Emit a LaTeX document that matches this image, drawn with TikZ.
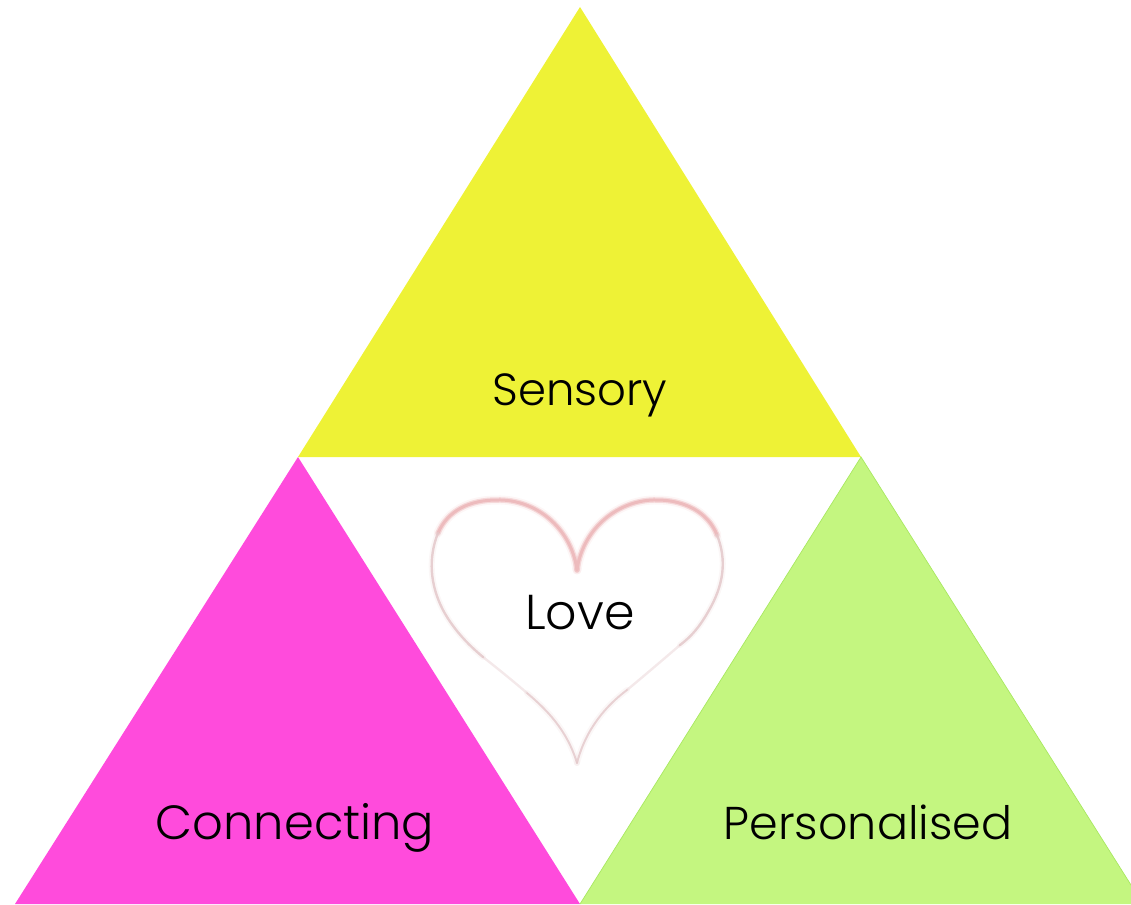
\documentclass[tikz,border=0pt]{standalone}
\usepackage{fontspec}
\setmainfont{Poppins Light}
\definecolor{sensoryc}{HTML}{EEF236}
\definecolor{connectc}{HTML}{FF4BDC}
\definecolor{personalc}{HTML}{C4F680}
\definecolor{personaledge}{HTML}{A8E860}
\definecolor{heartc}{HTML}{EDBBBD}
\definecolor{heartd}{HTML}{E3C8CA}
\newcommand{\upperL}{(577,570) .. controls (571,527) and (535,499) .. (497,500) .. controls (470,500) and (448,510) .. (438,533)}
\newcommand{\upperR}{(577,570) .. controls (583,527) and (620,499) .. (657,500) .. controls (684,500) and (708,512) .. (717,535)}
\newcommand{\sideL}{(438,533) .. controls (428,558) and (430,585) .. (443,610) .. controls (452,627) and (466,643) .. (483,657)}
\newcommand{\sideR}{(717,535) .. controls (727,560) and (724,585) .. (708,612) .. controls (700,626) and (692,636) .. (680,645)}
\newcommand{\lowL}{(483,657) .. controls (497,668) and (513,681) .. (527,693)}
\newcommand{\lowR}{(680,645) .. controls (665,658) and (645,675) .. (627,690)}
\newcommand{\tailL}{(527,693) .. controls (547,710) and (567,730) .. (577,763)}
\newcommand{\tailR}{(627,690) .. controls (607,705) and (586,728) .. (577,763)}
\tikzset{
  tri/.style={line join=miter},
  label/.style={text=black, inner sep=0pt, anchor=base},
  heartwide/.style={draw=heartc, opacity=0.13, line width=9pt, line cap=round},
  heartmid/.style={draw=heartc, opacity=0.5, line width=5.5pt, line cap=round},
  heartcore/.style={draw=heartc, line width=3pt, line cap=round},
  sidewide/.style={draw=heartd, opacity=0.15, line width=6pt, line cap=round},
  sidecore/.style={draw=heartd, opacity=0.85, line width=2.4pt, line cap=round},
  lowcore/.style={draw=heartd, opacity=0.4, line width=2.4pt, line cap=round},
  tailcore/.style={draw=heartd, opacity=0.8, line width=2pt, line cap=round},
}
\begin{document}
\begin{tikzpicture}[x=1pt,y=-1pt]
\useasboundingbox (0,0) rectangle (1131,904);
\begin{scope}
\clip (0,0) rectangle (1131,904);
\fill[sensoryc,tri] (580,7) -- (861,457) -- (298,457) -- cycle;
\fill[connectc,tri] (298,457) -- (580,904) -- (15,904) -- cycle;
\fill[personalc,tri] (861,457) -- (1143,904) -- (580,904) -- cycle;
\draw[personaledge,line width=0.7pt] (580,904) -- (861,457) -- (1143,904);
% heart
\path[heartwide] \upperL;
\path[heartwide] \upperR;
\path[heartmid] \upperL;
\path[heartmid] \upperR;
\path[heartcore] \upperL;
\path[heartcore] \upperR;
\path[sidewide] \sideL;
\path[sidewide] \sideR;
\path[sidecore] \sideL;
\path[sidecore] \sideR;
\path[lowcore] \lowL;
\path[lowcore] \lowR;
\path[sidewide] \tailL;
\path[sidewide] \tailR;
\path[tailcore] \tailL;
\path[tailcore] \tailR;
\end{scope}
\node[label,font=\fontsize{45}{54}\selectfont] (sensory) at (580,405.5) {Sensory};
\node[label,font=\fontsize{49}{58}\selectfont] (love) at (580,629.5) {Love};
\node[label,font=\fontsize{48}{58}\selectfont] (connecting) at (295,839.5) {Connecting};
\node[label,font=\fontsize{46}{55}\selectfont] (personalised) at (868,839.5) {Personalised};
\end{tikzpicture}
\end{document}
